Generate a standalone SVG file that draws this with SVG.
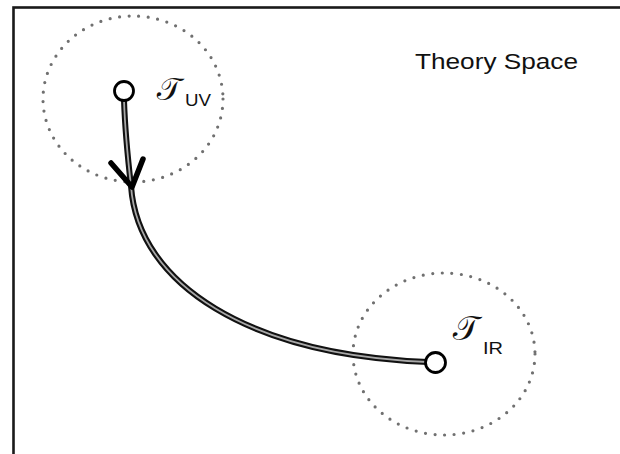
<svg xmlns="http://www.w3.org/2000/svg" width="620" height="454" viewBox="0 0 620 454">
<style>
.dots{fill:none;stroke:#707070;stroke-width:3.2;stroke-linecap:round;stroke-dasharray:0 9.6}
.node{fill:#fff;stroke:#000;stroke-width:2.8}
.outer{fill:none;stroke:#111;stroke-width:6;stroke-linecap:round}
.inner{fill:none;stroke:#a8a8a8;stroke-width:1.8;stroke-linecap:round}
.lbl{font-family:"Liberation Sans",Arial,sans-serif;fill:#111}
.cal{font-family:"DejaVu Serif","Noto Sans Math",serif;fill:#111}
</style>
<rect width="620" height="454" fill="#fff"/>
<rect x="13.5" y="7.5" width="700" height="500" fill="none" stroke="#1a1a1a" stroke-width="2.6"/>
<text class="lbl" x="415" y="69" font-size="22" textLength="163" lengthAdjust="spacingAndGlyphs">Theory Space</text>
<g id="region-uv"><ellipse class="dots" cx="133" cy="99" rx="90" ry="83"/></g>
<g id="region-ir"><ellipse class="dots" cx="444" cy="354" rx="91" ry="81"/></g>
<g id="connectors">
<path class="outer" d="M124,100 C125,130 128,160 131,186 C138,285 250,355 428,362"/>
<path class="inner" d="M124,100 C125,130 128,160 131,186 C138,285 250,355 428,362"/>
<path d="M111,163 L132,187 L143,159" fill="none" stroke="#000" stroke-width="5.5" stroke-linecap="round" stroke-linejoin="round"/>
</g>
<g id="node-uv">
<circle class="node" cx="124" cy="91" r="9.5"/>
<text class="cal" x="156" y="100" font-size="30">𝒯</text>
<text class="lbl" x="185" y="106" font-size="16" textLength="26" lengthAdjust="spacingAndGlyphs">UV</text>
</g>
<g id="node-ir">
<circle class="node" cx="435.5" cy="362.5" r="10"/>
<text class="cal" x="452" y="340" font-size="32">𝒯</text>
<text class="lbl" x="483" y="354" font-size="17" textLength="20" lengthAdjust="spacingAndGlyphs">IR</text>
</g>
</svg>
